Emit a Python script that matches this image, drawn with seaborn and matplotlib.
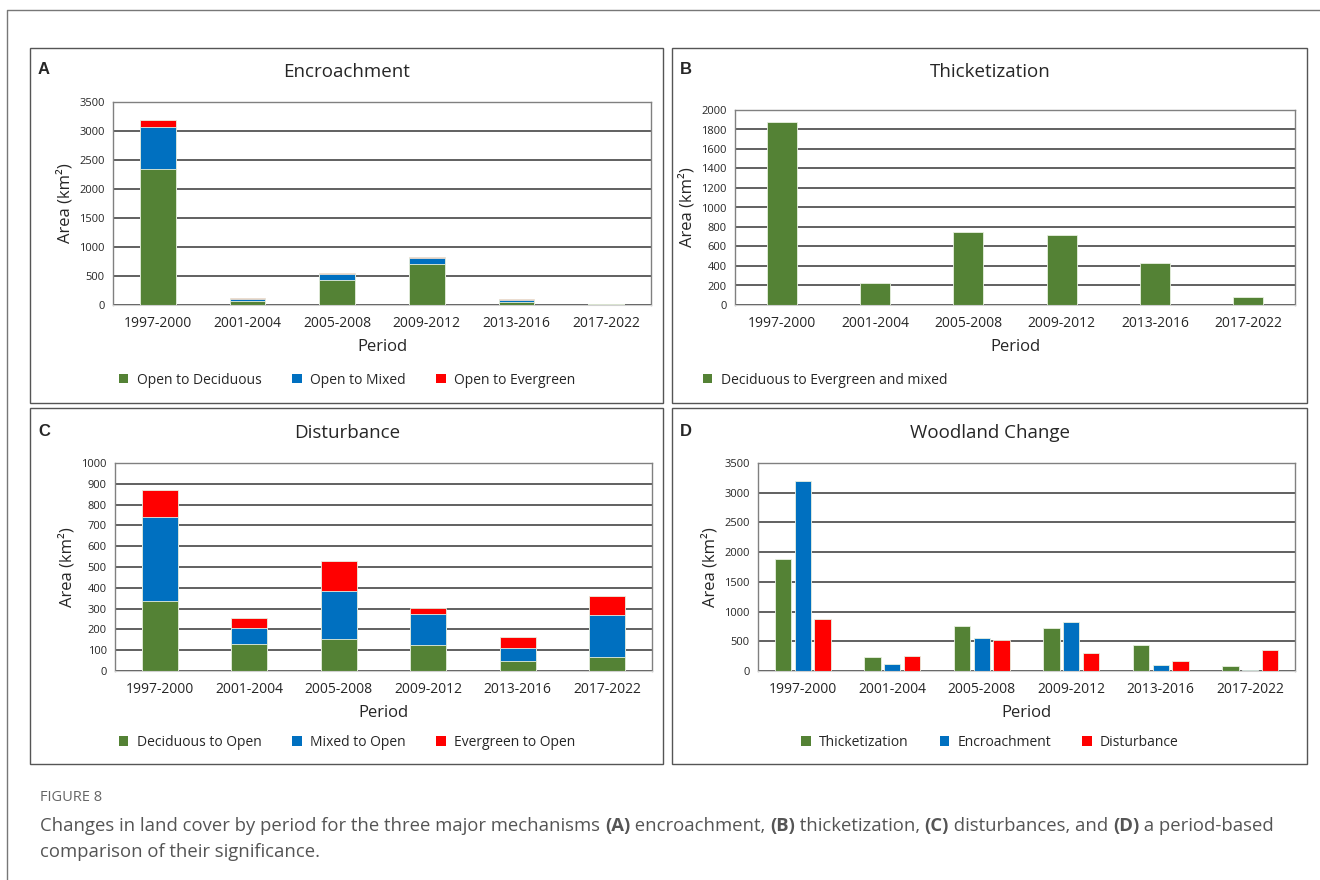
import numpy as np
import pandas as pd
import matplotlib
matplotlib.use("Agg")
import matplotlib.pyplot as plt
import seaborn as sns
from matplotlib.patches import Patch, Rectangle
from matplotlib.lines import Line2D

# data (km2)
periods = ["1997-2000", "2001-2004", "2005-2008", "2009-2012", "2013-2016", "2017-2022"]

open_to_deciduous = [2340, 70, 430, 700, 60, 10]
open_to_mixed = [730, 30, 100, 110, 30, 5]
open_to_evergreen = [120, 15, 20, 20, 10, 5]

deciduous_to_evergreen_mixed = [1880, 230, 750, 720, 430, 85]

deciduous_to_open = [335, 130, 155, 125, 50, 65]
mixed_to_open = [405, 75, 230, 150, 60, 205]
evergreen_to_open = [130, 50, 145, 30, 55, 90]

GREEN = "#548235"
BLUE = "#0070C0"
RED = "#FF0000"

W, H = 1320, 880

sns.set_style("white")
plt.rcParams["font.family"] = ["Open Sans", "DejaVu Sans"]

fig = plt.figure(figsize=(W / 100, H / 100), dpi=100)


def px_axes(x0, y0, x1, y1):
    return fig.add_axes([x0 / W, (H - y1) / H, (x1 - x0) / W, (y1 - y0) / H])


def fx(x):
    return x / W


def fy(y):
    return (H - y) / H


def style_axes(ax, ymax, step):
    ax.set_ylim(0, ymax)
    ax.set_yticks(np.arange(0, ymax + 1, step))
    ax.tick_params(axis="y", labelsize=8, length=0, pad=6)
    ax.tick_params(axis="x", labelsize=10, length=0, pad=8)
    ax.yaxis.grid(True, color="#363636", linewidth=1.1)
    ax.set_axisbelow(True)
    for s in ["left", "top", "right"]:
        ax.spines[s].set_color("#808080")
        ax.spines[s].set_linewidth(1.0)
    ax.spines["bottom"].set_color("#d0d0d0")
    ax.set_xlabel("Period", fontsize=12, labelpad=6)
    ax.set_ylabel("Area (km²)", fontsize=12, labelpad=4)


bar_kw = dict(saturation=1, linewidth=0.6, edgecolor="#e8f0e0")

# panel frames and outer frame
for (x0, y0, x1, y1) in [(30, 48, 663, 403), (672, 48, 1307, 403),
                         (30, 408, 663, 764), (672, 408, 1307, 764)]:
    fig.patches.append(Rectangle((fx(x0), fy(y1)), fx(x1 - x0), (y1 - y0) / H,
                                 transform=fig.transFigure, fill=False,
                                 edgecolor="#555555", linewidth=1.0))
fig.lines.append(Line2D([fx(7), fx(7), 1.0], [0.0, fy(10), fy(10)],
                        transform=fig.transFigure, color="#777777", linewidth=1.0))

# ---- A: Encroachment (stacked)
axA = px_axes(113, 102, 651, 305)
c1 = np.array(open_to_deciduous)
c2 = c1 + np.array(open_to_mixed)
c3 = c2 + np.array(open_to_evergreen)
sns.barplot(x=periods, y=c3, color=RED, width=0.4, ax=axA, **bar_kw)
sns.barplot(x=periods, y=c2, color=BLUE, width=0.4, ax=axA, **bar_kw)
sns.barplot(x=periods, y=c1, color=GREEN, width=0.4, ax=axA, **bar_kw)
style_axes(axA, 3500, 500)

# ---- B: Thicketization
axB = px_axes(735, 110, 1295, 305)
sns.barplot(x=periods, y=deciduous_to_evergreen_mixed, color=GREEN, width=0.32,
            ax=axB, **bar_kw)
style_axes(axB, 2000, 200)

# ---- C: Disturbance (stacked)
axC = px_axes(115, 463, 652, 671)
d1 = np.array(deciduous_to_open)
d2 = d1 + np.array(mixed_to_open)
d3 = d2 + np.array(evergreen_to_open)
sns.barplot(x=periods, y=d3, color=RED, width=0.4, ax=axC, **bar_kw)
sns.barplot(x=periods, y=d2, color=BLUE, width=0.4, ax=axC, **bar_kw)
sns.barplot(x=periods, y=d1, color=GREEN, width=0.4, ax=axC, **bar_kw)
style_axes(axC, 1000, 100)

# ---- D: Woodland change (grouped)
axD = px_axes(758, 463, 1295, 671)
df = pd.DataFrame({
    "period": periods * 3,
    "area": list(deciduous_to_evergreen_mixed) + list(c3) + list(d3),
    "mech": ["Thicketization"] * 6 + ["Encroachment"] * 6 + ["Disturbance"] * 6,
})
sns.barplot(data=df, x="period", y="area", hue="mech",
            palette=[GREEN, BLUE, RED], width=0.66, gap=0.18,
            ax=axD, legend=False, **bar_kw)
style_axes(axD, 3500, 500)

# titles and panel letters
for (lx, ly, letter, tx, title) in [(38, 70, "A", 347, "Encroachment"),
                                     (680, 70, "B", 990, "Thicketization"),
                                     (38, 431, "C", 347, "Disturbance"),
                                     (680, 431, "D", 990, "Woodland Change")]:
    fig.text(fx(lx), fy(ly), letter, fontsize=12, fontweight="bold",
             family=["Liberation Sans"], va="center", ha="left")
    fig.text(fx(tx), fy(ly + 2), title, fontsize=13.5, va="center", ha="center")

# legends
def legend(labels, colors, x, y, loc):
    handles = [Patch(facecolor=c, edgecolor="none") for c in colors]
    fig.legend(handles, labels, loc=loc, bbox_to_anchor=(fx(x), fy(y)),
               ncol=len(labels), frameon=False, fontsize=10, handlelength=0.7,
               handleheight=0.7, columnspacing=2.2, handletextpad=0.6)

legend(["Open to Deciduous", "Open to Mixed", "Open to Evergreen"],
       [GREEN, BLUE, RED], 347, 380, "center")
legend(["Deciduous to Evergreen and mixed"], [GREEN], 690, 380, "center left")
legend(["Deciduous to Open", "Mixed to Open", "Evergreen to Open"],
       [GREEN, BLUE, RED], 347, 742, "center")
legend(["Thicketization", "Encroachment", "Disturbance"],
       [GREEN, BLUE, RED], 990, 742, "center")

# caption
fig.text(fx(40), fy(797), "FIGURE 8", fontsize=10.5, color="#666666", va="center")

renderer = fig.canvas.get_renderer()


def caption_line(pieces, x, y):
    xpos = fx(x)
    for txt, bold in pieces:
        t = fig.text(xpos, fy(y), txt, fontsize=13.3, color="#555555", va="center",
                     fontweight="bold" if bold else "normal")
        bb = t.get_window_extent(renderer=renderer)
        xpos += bb.width / W


caption_line([("Changes in land cover by period for the three major mechanisms ", False),
              ("(A)", True), (" encroachment, ", False), ("(B)", True),
              (" thicketization, ", False), ("(C)", True), (" disturbances, and ", False),
              ("(D)", True), (" a period-based", False)], 40, 826)
caption_line([("comparison of their significance.", False)], 40, 852)

fig.savefig("out.png", dpi=100)
